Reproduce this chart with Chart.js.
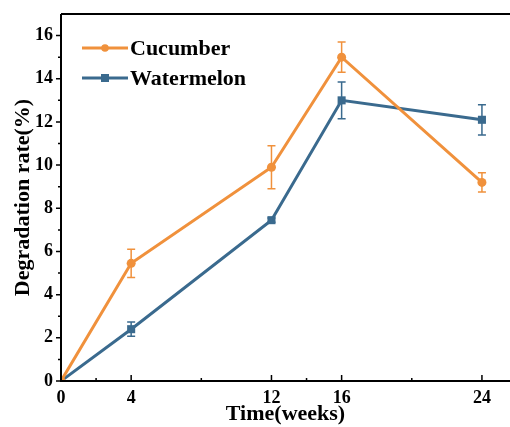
<!DOCTYPE html>
<html>
<head>
<meta charset="utf-8">
<script src="https://cdn.jsdelivr.net/npm/chart.js@4/dist/chart.umd.min.js"></script>
<style>
  html, body { margin: 0; padding: 0; background: #fff; overflow: hidden; }
  canvas { display: block; }
</style>
</head>
<body>
<canvas id="degChart" width="510" height="427"></canvas>
<script>
// date
const weeks = [0, 4, 12, 16, 24];
const cucumber = [0, 5.45, 9.9, 15.0, 9.2];
const cucumberErr = [0, 0.65, 1.0, 0.7, 0.45];
const watermelon = [0, 2.4, 7.45, 13.0, 12.1];
const watermelonErr = [0, 0.33, 0.1, 0.85, 0.7];
const xTicks = [0, 4, 12, 16, 24];
const xMinor = [2, 8, 14, 20];
const yTicks = [0, 2, 4, 6, 8, 10, 12, 14, 16];
const yMinor = [1, 3, 5, 7, 9, 11, 13, 15];

const orange = "#F0913C";
const blue = "#3A6A8E";
const serif = "'Liberation Serif', 'Times New Roman', serif";

// bare de eroare
const errorBars = {
    id: "errorBars",
    afterDatasetsDraw(chart) {
        const ctx = chart.ctx;
        const x = chart.scales.x, y = chart.scales.y;
        chart.data.datasets.forEach(ds => {
            ctx.save();
            ctx.strokeStyle = ds.borderColor;
            ctx.lineWidth = 1.5;
            ds.data.forEach((p, i) => {
                const e = ds.errors[i];
                if (!e) return;
                const px = x.getPixelForValue(p.x);
                const top = y.getPixelForValue(p.y + e);
                const bot = y.getPixelForValue(p.y - e);
                ctx.beginPath();
                ctx.moveTo(px, top); ctx.lineTo(px, bot);
                ctx.moveTo(px - 4, top); ctx.lineTo(px + 4, top);
                ctx.moveTo(px - 4, bot); ctx.lineTo(px + 4, bot);
                ctx.stroke();
            });
            ctx.restore();
        });
    }
};

// rama, gradatii si legenda
const frame = {
    id: "frame",
    afterDraw(chart) {
        const ctx = chart.ctx;
        const a = chart.chartArea;
        const x = chart.scales.x, y = chart.scales.y;
        ctx.save();
        ctx.strokeStyle = "#000";
        ctx.lineWidth = 2;
        ctx.beginPath();
        ctx.moveTo(a.left, a.top); ctx.lineTo(a.right, a.top);
        ctx.moveTo(a.left, a.top); ctx.lineTo(a.left, a.bottom);
        ctx.moveTo(a.left - 1, a.bottom); ctx.lineTo(a.right, a.bottom);
        ctx.stroke();

        ctx.lineWidth = 1.5;
        ctx.beginPath();
        xTicks.forEach(v => { const p = x.getPixelForValue(v); ctx.moveTo(p, a.bottom); ctx.lineTo(p, a.bottom - 6); });
        xMinor.forEach(v => { const p = x.getPixelForValue(v); ctx.moveTo(p, a.bottom); ctx.lineTo(p, a.bottom - 3); });
        yTicks.forEach(v => { const p = y.getPixelForValue(v); ctx.moveTo(a.left, p); ctx.lineTo(a.left - 5, p); });
        yMinor.forEach(v => { const p = y.getPixelForValue(v); ctx.moveTo(a.left, p); ctx.lineTo(a.left - 3, p); });
        ctx.stroke();

        // legenda
        const rows = [48, 78];
        chart.data.datasets.forEach((ds, i) => {
            const ly = rows[i];
            ctx.strokeStyle = ds.borderColor;
            ctx.lineWidth = 3;
            ctx.beginPath();
            ctx.moveTo(82, ly); ctx.lineTo(128, ly);
            ctx.stroke();
            ctx.fillStyle = ds.borderColor;
            if (ds.pointStyle === "rect") {
                ctx.fillRect(101, ly - 4, 8, 8);
            } else {
                ctx.beginPath(); ctx.arc(105, ly, 3.8, 0, Math.PI * 2); ctx.fill();
            }
            ctx.fillStyle = "#000";
            ctx.font = "bold 22px " + serif;
            ctx.textBaseline = "middle";
            ctx.textAlign = "left";
            ctx.fillText(ds.label, 130, ly + 1);
        });
        ctx.restore();
    }
};

const ctx = document.getElementById("degChart").getContext("2d");
new Chart(ctx, {
    type: "line",
    data: {
        datasets: [{
            label: "Cucumber",
            data: weeks.map((w, i) => ({ x: w, y: cucumber[i] })),
            errors: cucumberErr,
            borderColor: orange,
            backgroundColor: orange,
            borderWidth: 3,
            pointStyle: "circle",
            pointRadius: 4.5,
            pointBorderWidth: 0,
            pointHoverRadius: 4.5
        }, {
            label: "Watermelon",
            data: weeks.map((w, i) => ({ x: w, y: watermelon[i] })),
            errors: watermelonErr,
            borderColor: blue,
            backgroundColor: blue,
            borderWidth: 3,
            pointStyle: "rect",
            pointRadius: 5.7,
            pointBorderWidth: 0,
            pointHoverRadius: 5.7
        }]
    },
    options: {
        responsive: false,
        animation: false,
        layout: { autoPadding: false, padding: { top: 14, right: 0, left: 0, bottom: 0 } },
        plugins: { legend: { display: false }, tooltip: { enabled: false } },
        scales: {
            x: {
                type: "linear",
                min: 0,
                max: 25.6,
                grid: { display: false, drawTicks: false },
                border: { display: false },
                afterBuildTicks: s => { s.ticks = xTicks.map(v => ({ value: v })); },
                afterFit: s => { s.height = 46; s.paddingLeft = 0; s.paddingRight = 0; },
                ticks: { color: "#000", padding: 7, maxRotation: 0, autoSkip: false, font: { family: serif, size: 18, weight: "bold" } },
                title: { display: true, text: "Time(weeks)", color: "#000", padding: { top: 0, bottom: -1 }, font: { family: serif, size: 22, weight: "bold" } }
            },
            y: {
                min: 0,
                max: 17,
                grid: { display: false, drawTicks: false },
                border: { display: false },
                afterBuildTicks: s => { s.ticks = yTicks.map(v => ({ value: v })); },
                afterFit: s => { s.width = 61; s.paddingTop = 0; s.paddingBottom = 0; },
                ticks: { color: "#000", padding: 8, autoSkip: false, font: { family: serif, size: 18, weight: "bold" } },
                title: { display: true, text: "Degradation rate(%)", color: "#000", padding: { top: 10, bottom: 0 }, font: { family: serif, size: 22, weight: "bold" } }
            }
        }
    },
    plugins: [errorBars, frame]
});
</script>
</body>
</html>
